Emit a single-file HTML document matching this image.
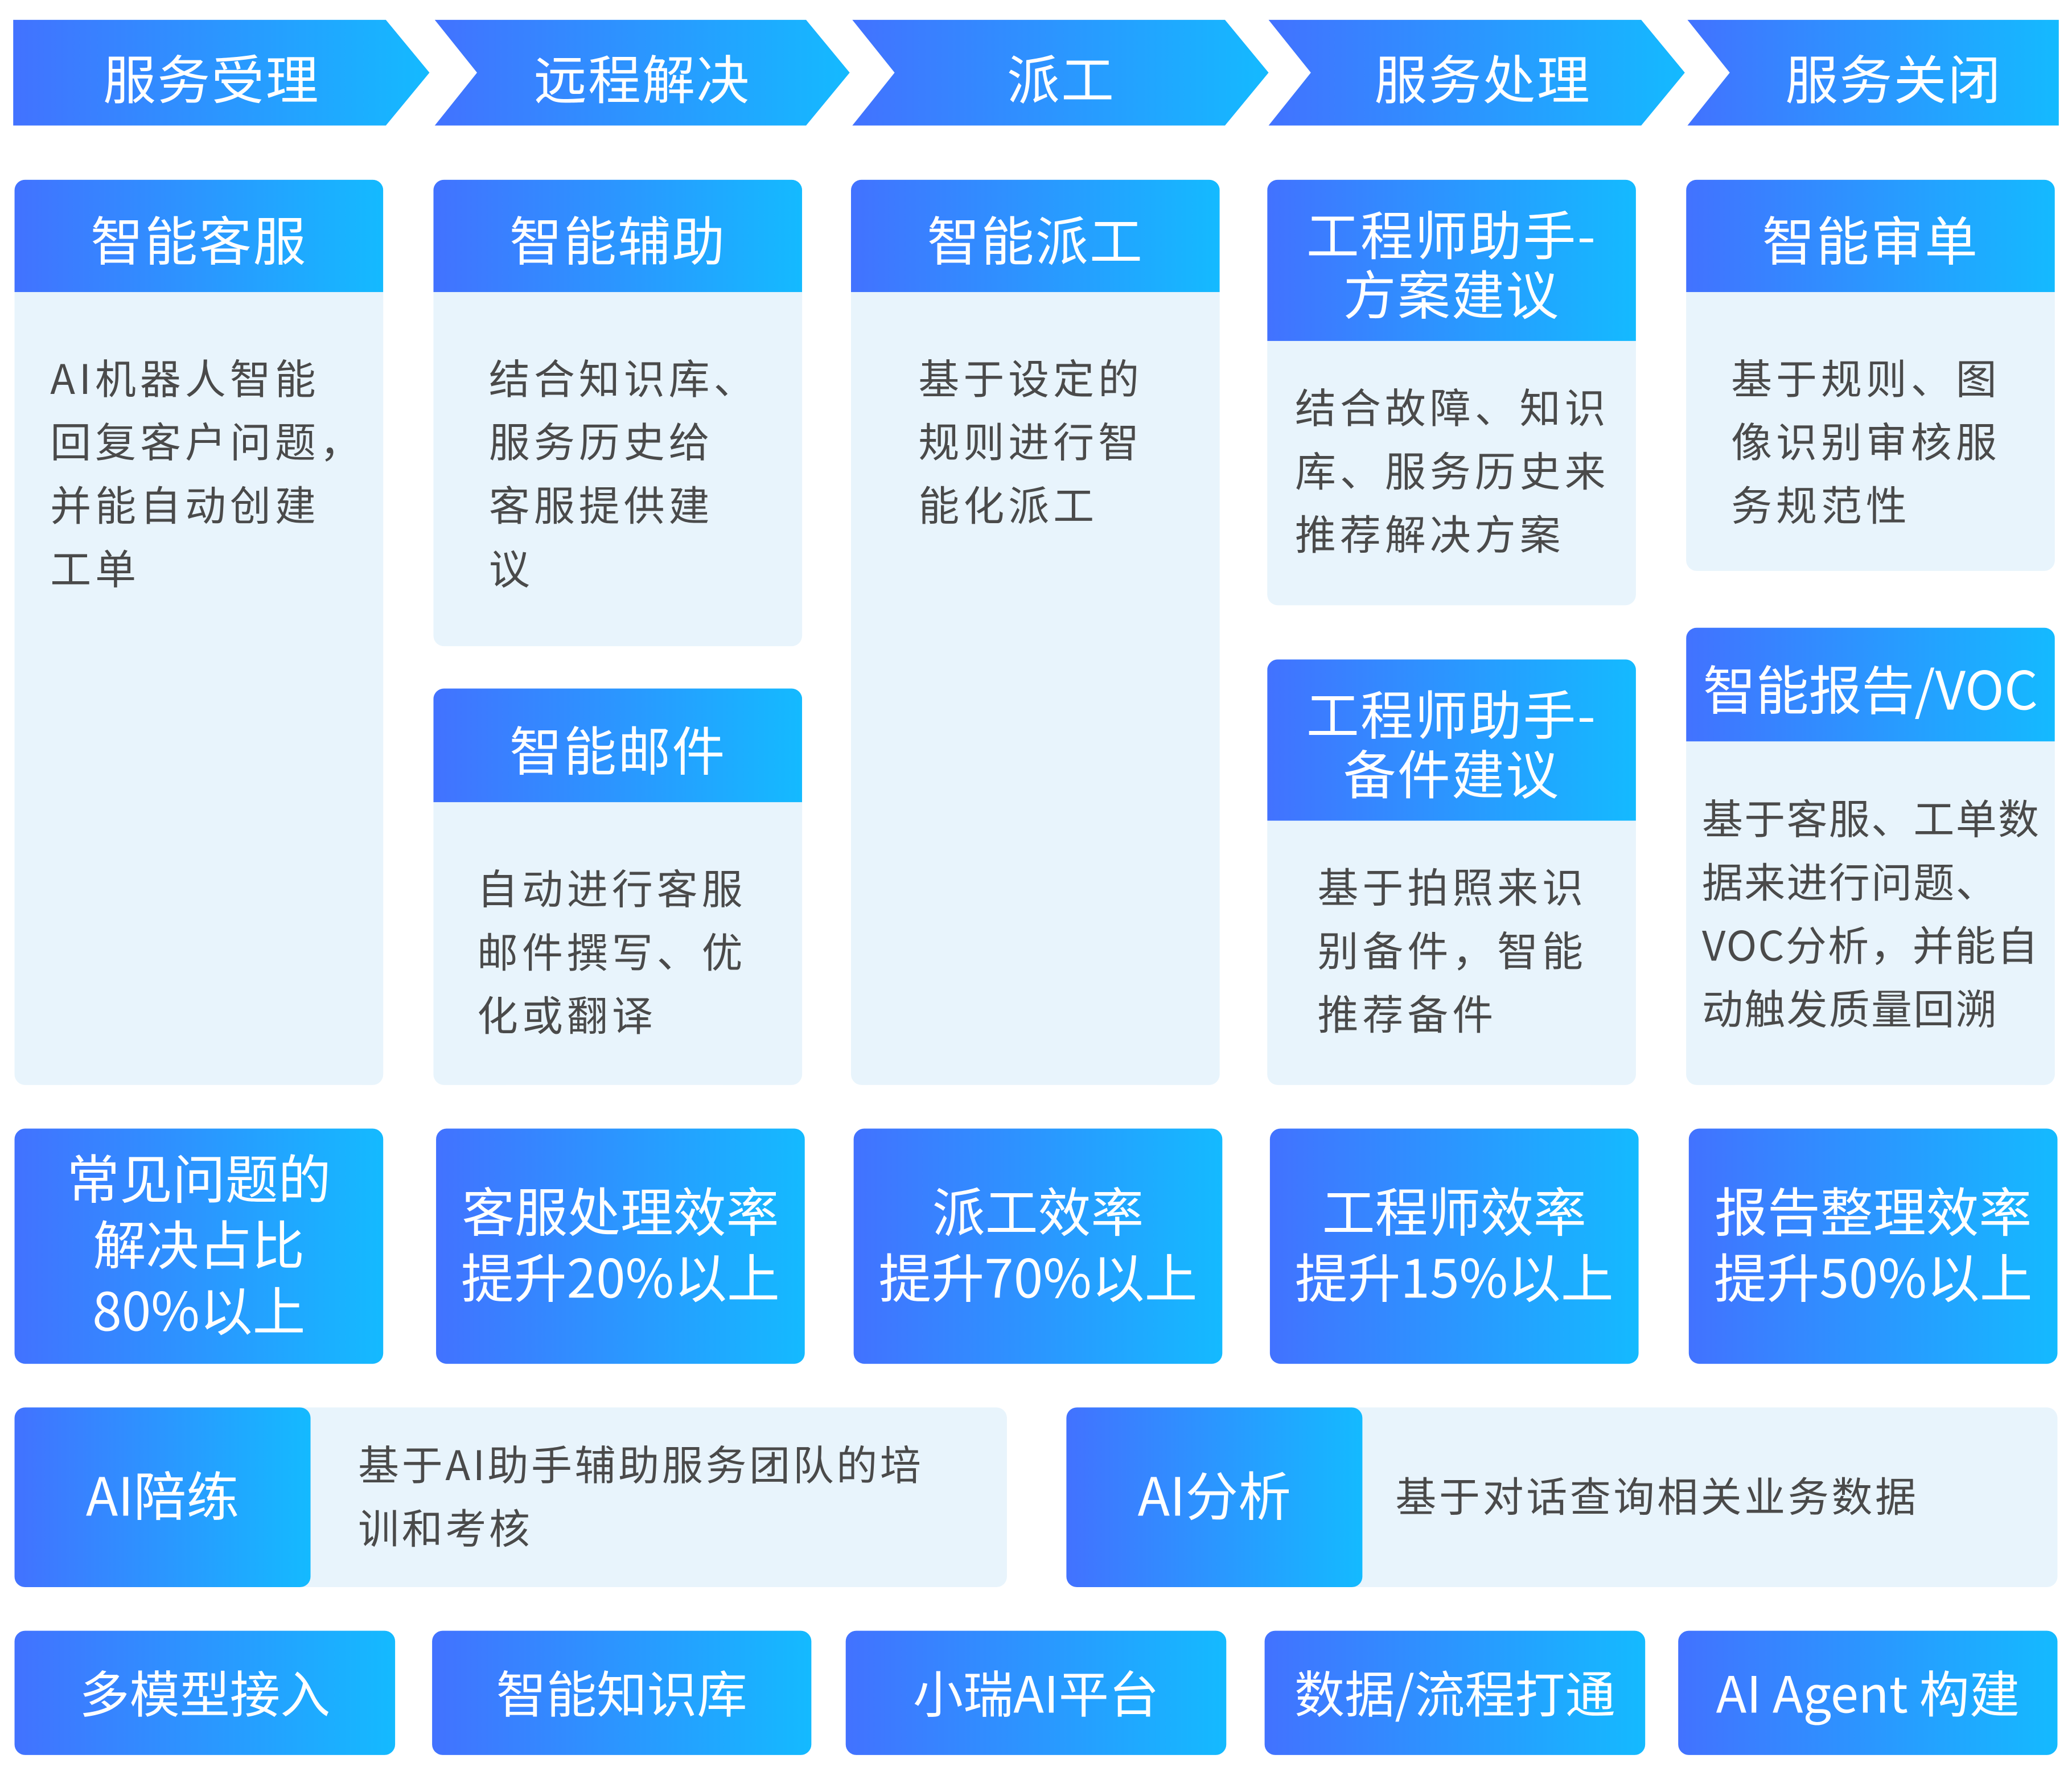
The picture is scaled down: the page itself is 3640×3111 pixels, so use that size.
<!DOCTYPE html>
<html><head><meta charset="utf-8"><style>
html,body{margin:0;padding:0;background:#fff;}
body{width:3640px;height:3111px;overflow:hidden;position:relative;}
#w{position:absolute;left:0;top:0;width:1568px;height:1340px;transform:scale(2.32143);transform-origin:0 0;font-family:"Noto Sans CJK SC","Liberation Sans",sans-serif;}
.g{background:linear-gradient(90deg,#4272ff,#14baff);color:#fff;}
.card{position:absolute;background:#e8f4fc;border-radius:8px;overflow:hidden;}
.hd{position:absolute;left:0;top:0;right:0;display:flex;align-items:center;justify-content:center;text-align:center;font-size:40px;line-height:45px;letter-spacing:1px;padding-top:4px;box-sizing:border-box;}
.tx{position:absolute;font-size:31px;line-height:48px;color:#4a4a4a;letter-spacing:3px;white-space:nowrap;}
.st{position:absolute;border-radius:8px;display:flex;align-items:center;justify-content:center;text-align:center;font-size:40px;line-height:50px;box-sizing:border-box;padding-bottom:6px;}
.ch{position:absolute;top:18px;height:80px;display:flex;align-items:center;justify-content:center;color:#fff;font-size:40px;letter-spacing:1px;}
</style></head><body><div id="w">
<svg width="1568" height="110" style="position:absolute;left:0;top:0">
<defs><linearGradient id="gr" x1="0" x2="1" y1="0" y2="0"><stop offset="0" stop-color="#4272ff"/><stop offset="1" stop-color="#14baff"/></linearGradient></defs>
<polygon points="10,15 292,15 325,55 292,95 10,95" fill="url(#gr)"/>
<polygon points="329,15 610,15 643,55 610,95 329,95 361,55" fill="url(#gr)"/>
<polygon points="645,15 927,15 960,55 927,95 645,95 677,55" fill="url(#gr)"/>
<polygon points="960,15 1242,15 1275,55 1242,95 960,95 992,55" fill="url(#gr)"/>
<polygon points="1277,15 1558,15 1558,95 1277,95 1309,55" fill="url(#gr)"/>
</svg>
<div class="ch" style="left:30px;width:260px">服务受理</div>
<div class="ch" style="left:355px;width:262px">远程解决</div>
<div class="ch" style="left:672px;width:262px">派工</div>
<div class="ch" style="left:990px;width:264px">服务处理</div>
<div class="ch" style="left:1305px;width:256px">服务关闭</div>

<div class="card" style="left:11px;top:136px;width:279px;height:685px"><div class="hd g" style="height:85px">智能客服</div></div>
<div class="tx" style="left:38px;top:261px">AI机器人智能<br>回复客户问题，<br>并能自动创建<br>工单</div>

<div class="card" style="left:328px;top:136px;width:279px;height:353px"><div class="hd g" style="height:85px">智能辅助</div></div>
<div class="tx" style="left:370px;top:261px">结合知识库、<br>服务历史给<br>客服提供建<br>议</div>

<div class="card" style="left:328px;top:521px;width:279px;height:300px"><div class="hd g" style="height:86px">智能邮件</div></div>
<div class="tx" style="left:361px;top:647px">自动进行客服<br>邮件撰写、优<br>化或翻译</div>

<div class="card" style="left:644px;top:136px;width:279px;height:685px"><div class="hd g" style="height:85px">智能派工</div></div>
<div class="tx" style="left:695px;top:261px">基于设定的<br>规则进行智<br>能化派工</div>

<div class="card" style="left:959px;top:136px;width:279px;height:322px"><div class="hd g" style="height:122px">工程师助手-<br>方案建议</div></div>
<div class="tx" style="left:980px;top:283px">结合故障、知识<br>库、服务历史来<br>推荐解决方案</div>

<div class="card" style="left:959px;top:499px;width:279px;height:322px"><div class="hd g" style="height:122px">工程师助手-<br>备件建议</div></div>
<div class="tx" style="left:997px;top:646px">基于拍照来识<br>别备件，智能<br>推荐备件</div>

<div class="card" style="left:1276px;top:136px;width:279px;height:296px"><div class="hd g" style="height:85px">智能审单</div></div>
<div class="tx" style="left:1310px;top:261px">基于规则、图<br>像识别审核服<br>务规范性</div>

<div class="card" style="left:1276px;top:475px;width:279px;height:346px"><div class="hd g" style="height:86px;letter-spacing:0">智能报告/VOC</div></div>
<div class="tx" style="left:1288px;top:594px;letter-spacing:1px">基于客服、工单数<br>据来进行问题、<br>VOC分析，并能自<br>动触发质量回溯</div>

<div class="st g" style="left:11px;top:854px;width:279px;height:178px">常见问题的<br>解决占比<br>80%以上</div>
<div class="st g" style="left:330px;top:854px;width:279px;height:178px">客服处理效率<br>提升20%以上</div>
<div class="st g" style="left:646px;top:854px;width:279px;height:178px">派工效率<br>提升70%以上</div>
<div class="st g" style="left:961px;top:854px;width:279px;height:178px">工程师效率<br>提升15%以上</div>
<div class="st g" style="left:1278px;top:854px;width:279px;height:178px">报告整理效率<br>提升50%以上</div>

<div class="card" style="left:11px;top:1065px;width:751px;height:136px"></div>
<div class="st g" style="left:11px;top:1065px;width:224px;height:136px">AI陪练</div>
<div class="tx" style="left:271px;top:1083px;letter-spacing:2px">基于AI助手辅助服务团队的培<br>训和考核</div>

<div class="card" style="left:807px;top:1065px;width:750px;height:136px"></div>
<div class="st g" style="left:807px;top:1065px;width:224px;height:136px">AI分析</div>
<div class="tx" style="left:1056px;top:1107px;letter-spacing:2px">基于对话查询相关业务数据</div>

<div class="st g" style="left:11px;top:1234px;width:288px;height:94px;font-size:38px;padding-bottom:2px">多模型接入</div>
<div class="st g" style="left:327px;top:1234px;width:287px;height:94px;font-size:38px;padding-bottom:2px">智能知识库</div>
<div class="st g" style="left:640px;top:1234px;width:288px;height:94px;font-size:38px;padding-bottom:2px">小瑞AI平台</div>
<div class="st g" style="left:957px;top:1234px;width:288px;height:94px;font-size:38px;padding-bottom:2px">数据/流程打通</div>
<div class="st g" style="left:1270px;top:1234px;width:287px;height:94px;font-size:38px;padding-bottom:2px">AI Agent 构建</div>
</div></body></html>
